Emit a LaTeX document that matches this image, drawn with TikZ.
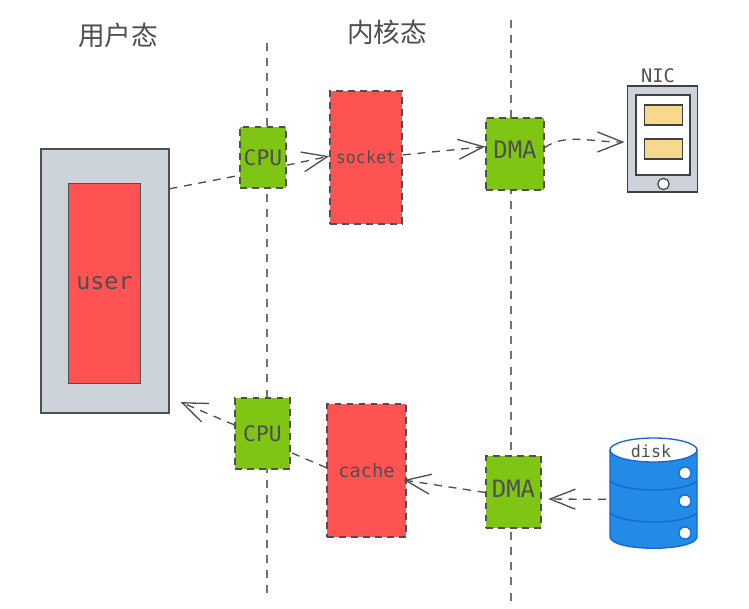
\documentclass[tikz,border=0pt]{standalone}
\usepackage{fontspec}
\newfontfamily\cjkfont{Noto Sans CJK SC}
\newfontfamily\sketchfont{DejaVu Sans Mono}
\usetikzlibrary{arrows.meta}
\definecolor{inkgray}{HTML}{4F4F4F}
\definecolor{boxred}{HTML}{FF5252}
\definecolor{boxgreen}{HTML}{7FC614}
\definecolor{boxgray}{HTML}{CDD3DB}
\definecolor{boxblue}{HTML}{228BE6}
\definecolor{lineblue}{HTML}{1864D8}
\definecolor{boxyellow}{HTML}{F6D98C}
\tikzset{
  redbox/.style={fill=boxred,draw=inkgray,line width=1.1pt,dash pattern=on 5pt off 4pt,inner sep=0pt,text=inkgray},
  greenbox/.style={fill=boxgreen,draw=inkgray,line width=1.1pt,dash pattern=on 5pt off 4pt,inner sep=0pt,text=inkgray,font=\sketchfont\fontsize{16}{18}\selectfont},
  flow/.style={draw=inkgray,line width=1pt,dash pattern=on 6pt off 5pt},
  flowtip/.style={flow,-{Straight Barb[length=19pt,width=15pt,line width=1pt]}},
  divider/.style={draw=inkgray!80,line width=1.2pt,dash pattern=on 6pt off 5.3pt},
  heading/.style={text=inkgray,font=\cjkfont\fontsize{20}{24}\selectfont,inner sep=0pt},
}
\begin{document}
\begin{tikzpicture}[x=0.75pt,y=0.75pt,yscale=-1,xscale=1]
\useasboundingbox (0,0) rectangle (749,609);
% dividers
\coordinate (divatop) at (267,43);
\coordinate (divabot) at (267,597);
\coordinate (divbtop) at (511,20);
\coordinate (divbbot) at (511,605);
\draw[divider] (divatop) -- (divabot);
\draw[divider] (divbtop) -- (divbbot);
% headings
\node[heading] (userhead) at (118,35) {用户态};
\node[heading] (kernhead) at (387,32) {内核态};
% user side
\node[fill=boxgray,draw=inkgray,line width=0.8pt,minimum width=96pt,minimum height=198pt] (outer) at (105,281) {};
\node[fill=boxred,draw=inkgray,line width=0.7pt,minimum width=54.5pt,minimum height=150pt,text=inkgray,font=\sketchfont\fontsize{17.5}{20}\selectfont] (user) at (104.5,283) {user};
% top row
\node[greenbox,minimum width=34.5pt,minimum height=46pt] (cpua) at (263,157.5) {CPU};
\node[redbox,minimum width=54pt,minimum height=99.5pt,font=\sketchfont\fontsize{12.5}{14}\selectfont] (socket) at (366,157.5) {socket};
\node[greenbox,minimum width=43.5pt,minimum height=54pt,text depth=6pt,font=\sketchfont\fontsize{18}{20}\selectfont] (dmaa) at (515,154) {DMA};
% bottom row
\node[greenbox,minimum width=41pt,minimum height=53pt] (cpub) at (262.5,433.5) {CPU};
\node[redbox,minimum width=59pt,minimum height=99.5pt,font=\sketchfont\fontsize{14}{16}\selectfont] (cache) at (366.5,470.5) {cache};
\node[greenbox,minimum width=41pt,minimum height=54pt,text depth=5pt,font=\sketchfont\fontsize{18}{20}\selectfont] (dmab) at (513.5,492) {DMA};
% nic
\node[fill=boxgray,draw=black!75,line width=0.9pt,minimum width=52pt,minimum height=79.5pt] (nic) at (662.5,139) {};
\node[fill=white,draw=black!75,line width=0.9pt,minimum width=40.5pt,minimum height=60pt] (nicscreen) at (663,135) {};
\node[fill=boxyellow,draw=black!75,line width=0.8pt,minimum width=29pt,minimum height=15pt] (nicslota) at (663.5,115) {};
\node[fill=boxyellow,draw=black!75,line width=0.8pt,minimum width=29pt,minimum height=15pt] (nicslotb) at (663.5,149) {};
\node[circle,fill=white,draw=black!75,line width=0.9pt,minimum size=8.5pt,inner sep=0pt] (nicbutton) at (663.5,184) {};
\node[text=inkgray,font=\sketchfont\fontsize{14}{16}\selectfont,inner sep=0pt] (niclabel) at (658,76) {NIC};
% disk
\node[minimum width=65pt,minimum height=81pt,inner sep=0pt] (disk) at (653.5,494) {};
\draw[fill=boxblue,draw=lineblue,line width=1pt] (610,450) -- (610,537) .. controls (612,552) and (695,552) .. (697,537) -- (697,450) -- cycle;
\draw[fill=white,draw=lineblue,line width=1pt] (653.5,450) ellipse [x radius=43.5,y radius=12];
\draw[draw=lineblue,line width=1pt] (610,481) .. controls (625,493) and (682,493) .. (697,481);
\draw[draw=lineblue,line width=1pt] (610,513) .. controls (625,525) and (682,525) .. (697,513);
\node[circle,fill=white,draw=lineblue,line width=0.9pt,minimum size=9pt,inner sep=0pt] (holea) at (685,473) {};
\node[circle,fill=white,draw=lineblue,line width=0.9pt,minimum size=9pt,inner sep=0pt] (holeb) at (685,501) {};
\node[circle,fill=white,draw=lineblue,line width=0.9pt,minimum size=9pt,inner sep=0pt] (holec) at (685,533) {};
\node[text=inkgray,font=\sketchfont\fontsize{12.5}{14}\selectfont,inner sep=0pt] (disklabel) at (651,451) {disk};
% connectors
\draw[flow] (outer.55) -- (cpua.217);
\draw[flowtip] (cpua.342) -- (socket.178);
\draw[flowtip] (socket.4) -- (dmaa.166);
\draw[flowtip,shorten >=2pt] (dmaa.12) .. controls (565,133) and (590,142) .. (nic.185);
\draw[flowtip,shorten <=3pt,shorten >=5pt] (disk.187) -- (dmab.346);
\draw[flowtip,shorten >=-2.2pt] (dmab.181) -- (cache.346);
\draw[flow] (cache.176) -- (cpub.326);
\draw[flowtip,shorten >=9pt] (cpub.163) -- (outer.299);
\end{tikzpicture}
\end{document}
